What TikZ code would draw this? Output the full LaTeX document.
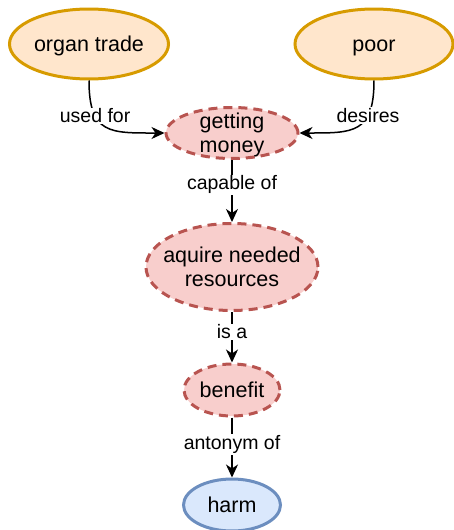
\documentclass[tikz,border=0pt]{standalone}
\usepackage{fontspec}
\setmainfont{Liberation Sans}
\usetikzlibrary{shapes.geometric, arrows.meta, positioning}
\definecolor{orangefill}{HTML}{FFE6CC}
\definecolor{orangeline}{HTML}{D79B00}
\definecolor{redfill}{HTML}{F8CECC}
\definecolor{redline}{HTML}{B85450}
\definecolor{bluefill}{HTML}{DAE8FC}
\definecolor{blueline}{HTML}{6C8EBF}
\tikzset{
	concept/.style={ellipse, line width=3pt, align=center, inner xsep=-12pt, inner ysep=-6pt, text depth=-5pt, font=\fontsize{21.5}{24}\selectfont},
	source/.style={concept, draw=orangeline, fill=orangefill},
	inferred/.style={concept, draw=redline, fill=redfill, dash pattern=on 9pt off 6pt},
	target/.style={concept, draw=blueline, fill=bluefill},
	link/.style={draw, line width=1.5pt, -{Stealth[length=13pt, width=12pt, inset=4pt]}},
	rel/.style={fill=white, inner sep=1pt, font=\fontsize{19.5}{22}\selectfont}
}
\begin{document}
\begin{tikzpicture}[x=1pt, y=-1pt]
		\useasboundingbox (0,0) rectangle (454,530);
		
		\node[source, minimum width=159pt, minimum height=70pt] at (89,44) (ot) {organ trade};
		\node[source, text height=15pt, minimum width=158pt, minimum height=70pt] at (374,44) (poor) {poor};
		\node[inferred, minimum width=132pt, minimum height=51pt] at (232,133) (gm) {getting\\money};
		\node[inferred, node distance=134pt, below of=gm, minimum width=172pt, minimum height=87pt] (anr) {aquire needed\\resources};
		\node[inferred, node distance=123pt, below of=anr, minimum width=96pt, minimum height=52pt] (benefit) {benefit};
		\node[target, node distance=115pt, below of=benefit, minimum width=97pt, minimum height=52pt] (harm) {harm};
		
		\draw (ot) edge[link, out=-90, in=180, looseness=1.5] node[rel, pos=0.3]{used for} (gm);
		\draw (poor) edge[link, out=-90, in=0, looseness=1.5] node[rel, pos=0.3]{desires} (gm);
		\draw (gm) edge[link] node[rel, pos=0.4]{capable of} (anr);
		\draw (anr) edge[link] node[rel, pos=0.39]{is a} (benefit);
		\draw (benefit) edge[link] node[rel, pos=0.45]{antonym of} (harm);
	\end{tikzpicture}
\end{document}
